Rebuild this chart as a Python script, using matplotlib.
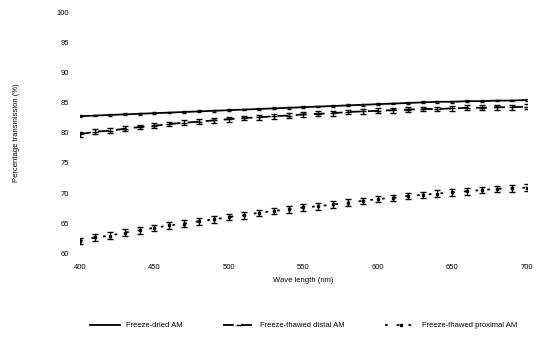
import matplotlib
matplotlib.use("Agg")
import matplotlib.pyplot as plt
from matplotlib.lines import Line2D

wavelength = list(range(400, 701, 10))
freeze_dried = [82.8, 82.9, 83.0, 83.1, 83.2, 83.3, 83.4, 83.5, 83.6, 83.7, 83.8,
                83.9, 84.0, 84.1, 84.2, 84.3, 84.4, 84.5, 84.6, 84.7, 84.8,
                84.9, 85.0, 85.1, 85.2, 85.2, 85.3, 85.3, 85.4, 85.4, 85.5]
distal = [79.8, 80.2, 80.4, 80.7, 81.0, 81.2, 81.5, 81.7, 81.9, 82.1, 82.3,
          82.5, 82.6, 82.8, 82.9, 83.1, 83.2, 83.3, 83.5, 83.6, 83.7,
          83.8, 83.9, 84.0, 84.0, 84.1, 84.2, 84.2, 84.3, 84.3, 84.4]
proximal = [62.0, 62.6, 62.9, 63.4, 63.8, 64.2, 64.6, 64.9, 65.3, 65.6, 66.0,
            66.3, 66.7, 67.0, 67.3, 67.6, 67.8, 68.1, 68.4, 68.7, 69.0,
            69.2, 69.5, 69.7, 69.9, 70.1, 70.3, 70.5, 70.7, 70.8, 70.9]
err_dried = [0.15] * len(wavelength)
err_distal = [0.4] * len(wavelength)
err_proximal = [0.55] * len(wavelength)
labels = ["Freeze-dried AM", "Freeze-thawed distal AM", "Freeze-thawed proximal AM"]

plt.rcParams['font.family'] = ['Liberation Sans', 'DejaVu Sans']
fig = plt.figure(figsize=(5.37, 3.41), dpi=100)
ax = fig.add_axes([0.149, 0.258, 0.832, 0.704])

styles = [dict(ls='-', marker=None, ms=0),
          dict(ls=(0, (6, 4)), marker='_', ms=4),
          dict(ls=(0, (1.5, 5)), marker='s', ms=2)]
caps = [1.5, 2, 2]
for ys, es, st, cp, lab in zip([freeze_dried, distal, proximal],
                               [err_dried, err_distal, err_proximal],
                               styles, caps, labels):
    ax.errorbar(wavelength, ys, yerr=es, color='black', lw=1.3,
                capsize=cp, elinewidth=1.0, label=lab, **st)

ax.set_xlim(400, 700)
ax.set_ylim(60, 100)
ax.set_xticks(range(400, 701, 50))
ax.set_yticks(range(60, 101, 5))
for s in ax.spines.values():
    s.set_visible(False)
ax.tick_params(length=0, labelsize=5.5, pad=8)
ax.set_xlabel("Wave length (nm)", fontsize=5.5, labelpad=4)
ax.set_ylabel("Percentage transmission (%)", fontsize=5.5, labelpad=26)

handles = [Line2D([], [], color='black', lw=1.3, **st) for st in styles]
fig.legend(handles, labels, loc='center', bbox_to_anchor=(0.565, 0.045), ncol=3,
           frameon=False, fontsize=5.5, handlelength=4, columnspacing=5.3)
fig.savefig("out.png", dpi=100)
